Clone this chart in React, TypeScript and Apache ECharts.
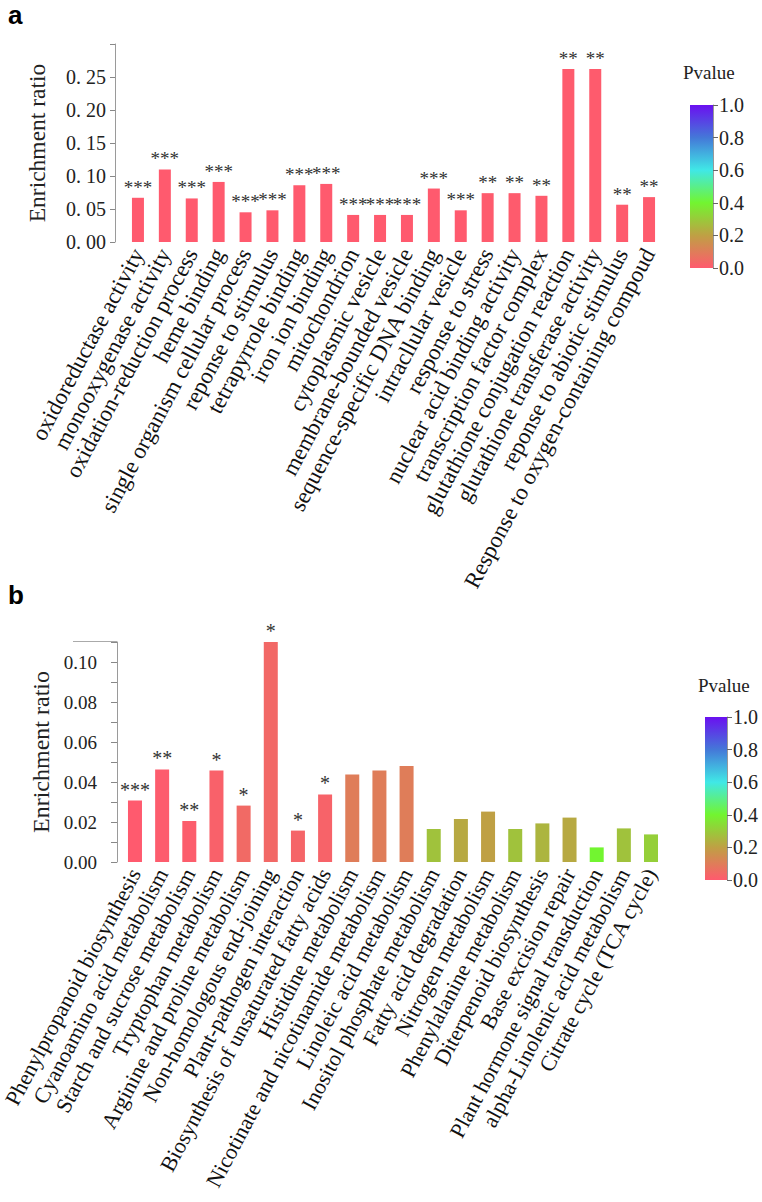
import { useEffect, useRef } from "react";
import * as echarts from "echarts";

const goTerms = [
  "oxidoreductase activity",
  "monooxygenase activity",
  "oxidation-reduction process",
  "heme binding",
  "single organism cellular process",
  "reponse to stimulus",
  "tetrapyrrole binding",
  "iron ion binding",
  "mitochondrion",
  "cytoplasmic vesicle",
  "membrane-bounded vesicle",
  "sequence-specific DNA binding",
  "intracllular vesicle",
  "response to stress",
  "nuclear acid binding activity",
  "transcription factor complex",
  "glutathione conjugation reaction",
  "glutathione transferase activity",
  "reponse to abiotic stimulus",
  "Response to oxygen-containing compoud",
];
const goRatio = [
  0.067, 0.11, 0.066, 0.091, 0.045, 0.048, 0.086, 0.088, 0.041, 0.041,
  0.041, 0.081, 0.048, 0.074, 0.074, 0.07, 0.262, 0.262, 0.0565, 0.068,
];
const goPvalue = [
  0.0002, 0.0002, 0.0002, 0.0002, 0.0002, 0.0002, 0.0002, 0.0002, 0.0002, 0.0002,
  0.0002, 0.0002, 0.0002, 0.003, 0.003, 0.003, 0.003, 0.003, 0.003, 0.003,
];
const goStars = [
  "***", "***", "***", "***", "***", "***", "***", "***", "***", "***",
  "***", "***", "***", "**", "**", "**", "**", "**", "**", "**",
];

const keggPathways = [
  "Phenylpropanoid biosynthesis",
  "Cyanoamino acid metabolism",
  "Starch and sucrose metabolism",
  "Tryptophan metabolism",
  "Arginine and proline metabolism",
  "Non-homologous end-joining",
  "Plant-pathogen interaction",
  "Biosynthesis of unsaturated fatty acids",
  "Histidine metabolism",
  "Nicotinate and nicotinamide metabolism",
  "Linoleic acid metabolism",
  "Inositol phosphate metabolism",
  "Fatty acid degradation",
  "Nitrogen metabolism",
  "Phenylalanine metabolism",
  "Diterpenoid biosynthesis",
  "Base excision repair",
  "Plant hormone signal transduction",
  "alpha-Linolenic acid metabolism",
  "Citrate cycle (TCA cycle)",
];
const keggRatio = [
  0.0307, 0.0463, 0.0205, 0.0457, 0.0282, 0.11, 0.0157, 0.0338, 0.0438, 0.0457,
  0.048, 0.0165, 0.0215, 0.0252, 0.0165, 0.0193, 0.0222, 0.0073, 0.0168, 0.0138,
];
const keggPvalue = [
  0.0005, 0.005, 0.008, 0.02, 0.045, 0.04, 0.03, 0.025, 0.1, 0.1,
  0.1, 0.28, 0.22, 0.2, 0.28, 0.25, 0.22, 0.4, 0.28, 0.31,
];
const keggStars = [
  "***", "**", "**", "*", "*", "*", "*", "*", "", "",
  "", "", "", "", "", "", "", "", "", "",
];

const pvalueColors = ["#FF5A6E", "#BFA044", "#72F530", "#40E8E6", "#4478D8", "#6A10F0"];

const SERIF = "'Liberation Serif', 'Times New Roman', serif";

export default function App() {
  const ref = useRef<HTMLDivElement>(null);

  useEffect(() => {
    if (!ref.current) return;
    const chart = echarts.init(ref.current, undefined, { renderer: "svg" });

    const gradient = () =>
      new echarts.graphic.LinearGradient(
        0, 1, 0, 0,
        pvalueColors.map((c, i) => ({ offset: i / (pvalueColors.length - 1), color: c }))
      );

    const catAxis = (gridIndex: number, data: string[], fontSize: number) => ({
      type: "category",
      gridIndex,
      data,
      axisLine: { show: false },
      axisTick: { show: false },
      axisLabel: {
        interval: 0,
        rotate: 62,
        fontSize,
        fontFamily: SERIF,
        color: "#111",
        margin: 8,
      },
    });

    const legendX = (gridIndex: number) => ({
      type: "category",
      gridIndex,
      data: [""],
      show: false,
    });

    const legendY = (gridIndex: number) => ({
      type: "value",
      gridIndex,
      position: "right",
      min: 0,
      max: 1,
      interval: 0.2,
      axisLine: { show: true, lineStyle: { color: "#999", width: 1 } },
      axisTick: { show: true, length: 5, lineStyle: { color: "#666" } },
      splitLine: { show: false },
      axisLabel: {
        formatter: (v: number) => v.toFixed(1),
        fontSize: 20,
        fontFamily: SERIF,
        color: "#222",
        margin: 6,
      },
    });

    const option: any = {
      animation: false,
      backgroundColor: "#fff",
      grid: [
        { left: 124.5, top: 44, width: 538, height: 198, containLabel: false, outerBoundsMode: "none" },
        { left: 121.4, top: 642, width: 543.2, height: 220, containLabel: false, outerBoundsMode: "none" },
        { left: 690, top: 105, width: 23, height: 163, containLabel: false, outerBoundsMode: "none" },
        { left: 705, top: 717, width: 22, height: 163, containLabel: false, outerBoundsMode: "none" },
      ],
      xAxis: [
        catAxis(0, goTerms, 23),
        catAxis(1, keggPathways, 22),
        legendX(2),
        legendX(3),
      ],
      yAxis: [
        {
          type: "value",
          gridIndex: 0,
          min: 0,
          max: 0.3,
          interval: 0.05,
          offset: 9.5,
          axisLine: { show: true, lineStyle: { color: "#9a9a9a" } },
          axisTick: { show: true, length: 5, lineStyle: { color: "#888" } },
          splitLine: { show: false },
          axisLabel: {
            formatter: (v: number) => (v > 0.29 ? "" : v.toFixed(2).replace(".", ". ")),
            fontSize: 20,
            fontFamily: SERIF,
            color: "#222",
            margin: 9,
          },
          name: "Enrichment ratio",
          nameLocation: "middle",
          nameGap: 66,
          nameTextStyle: { fontSize: 23.5, fontFamily: SERIF, color: "#222" },
        },
        {
          type: "value",
          gridIndex: 1,
          min: 0,
          max: 0.11,
          interval: 0.01,
          offset: 4.4,
          axisLine: { show: true, lineStyle: { color: "#9a9a9a" } },
          axisTick: { show: true, length: 6, lineStyle: { color: "#888" } },
          splitLine: { show: false },
          axisLabel: {
            formatter: (v: number) => {
              const k = Math.round(v * 100);
              return k % 2 === 0 && k <= 10 ? v.toFixed(2) : "";
            },
            fontSize: 19,
            fontFamily: SERIF,
            color: "#222",
            margin: 20,
          },
          name: "Enrichment ratio",
          nameLocation: "middle",
          nameGap: 60,
          nameTextStyle: { fontSize: 24, fontFamily: SERIF, color: "#222" },
        },
        legendY(2),
        legendY(3),
      ],
      visualMap: {
        type: "continuous",
        show: false,
        min: 0,
        max: 1,
        dimension: 2,
        seriesIndex: [0, 1],
        inRange: { color: pvalueColors },
      },
      series: [
        {
          type: "bar",
          xAxisIndex: 0,
          yAxisIndex: 0,
          barWidth: 12,
          data: goTerms.map((t, i) => [t, goRatio[i], goPvalue[i]]),
          encode: { x: 0, y: 1 },
          label: {
            show: true,
            position: "top",
            distance: 1,
            formatter: (p: any) => goStars[p.dataIndex],
            fontSize: 19,
            fontFamily: SERIF,
            color: "#333",
          },
        },
        {
          type: "bar",
          xAxisIndex: 1,
          yAxisIndex: 1,
          barWidth: 14,
          data: keggPathways.map((t, i) => [t, keggRatio[i], keggPvalue[i]]),
          encode: { x: 0, y: 1 },
          label: {
            show: true,
            position: "top",
            distance: 1,
            formatter: (p: any) => keggStars[p.dataIndex],
            fontSize: 20,
            fontFamily: SERIF,
            color: "#333",
          },
        },
        {
          type: "bar",
          xAxisIndex: 2,
          yAxisIndex: 2,
          barWidth: "100%",
          silent: true,
          data: [1],
          itemStyle: { color: gradient() },
        },
        {
          type: "bar",
          xAxisIndex: 3,
          yAxisIndex: 3,
          barWidth: "100%",
          silent: true,
          data: [1],
          itemStyle: { color: gradient() },
        },
      ],
      graphic: [
        {
          type: "text",
          left: 8,
          top: 2,
          style: { text: "a", font: "bold 26px 'Liberation Sans', Arial, sans-serif", fill: "#000" },
        },
        {
          type: "text",
          left: 8,
          top: 582,
          style: { text: "b", font: "bold 26px 'Liberation Sans', Arial, sans-serif", fill: "#000" },
        },
        {
          type: "text",
          left: 683,
          top: 63,
          style: { text: "Pvalue", font: `19px ${SERIF}`, fill: "#222" },
        },
        {
          type: "text",
          left: 698,
          top: 676,
          style: { text: "Pvalue", font: `19px ${SERIF}`, fill: "#222" },
        },
        {
          type: "line",
          shape: { x1: 73, y1: 641.5, x2: 117, y2: 641.5 },
          style: { stroke: "#aaa", lineWidth: 1 },
        },
      ],
    };

    chart.setOption(option);
    return () => chart.dispose();
  }, []);

  return (
    <div
      ref={ref}
      style={{ position: "absolute", left: 0, top: 0, width: 762, height: 1202, background: "#fff" }}
    />
  );
}
